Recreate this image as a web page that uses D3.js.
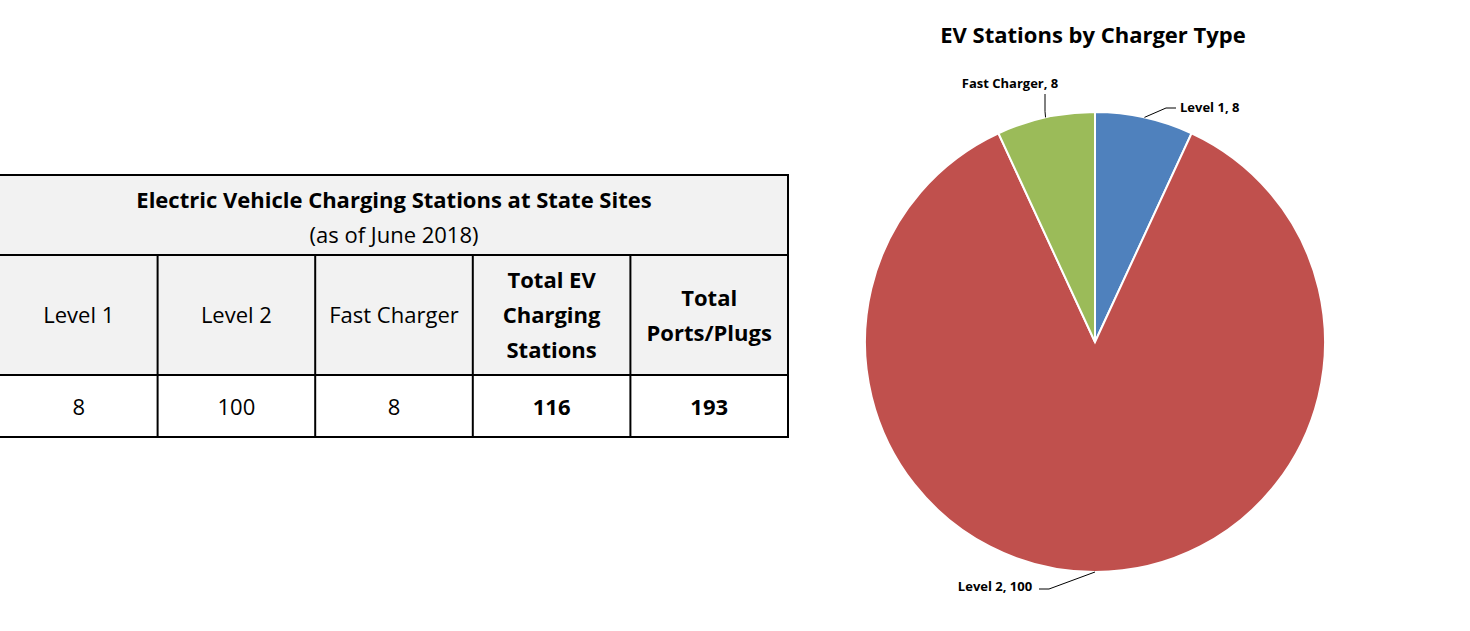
<!DOCTYPE html>
<html><head><meta charset="utf-8">
<script src="https://cdn.jsdelivr.net/npm/d3@7"></script>
<style>body{margin:0;background:#fff;font-family:"Open Sans",sans-serif}</style>
</head><body><svg id="c" width="1470" height="631"></svg>
<script>
var chargerTypes = ["Level 1", "Level 2", "Fast Charger"];
var stationCounts = [8, 100, 8];
var sliceColors = ["#4F81BD", "#C0504D", "#9BBB59"];
var tableHeaders = [["Level 1"], ["Level 2"], ["Fast Charger"], ["Total EV", "Charging", "Stations"], ["Total", "Ports/Plugs"]];
var tableValues = ["8", "100", "8", "116", "193"];
var boldCols = [false, false, false, true, true];

var svg = d3.select("#c");
var font = "'Open Sans', sans-serif";

// table
var colX = d3.scaleLinear().domain([0, 5]).range([0, 788]);
var t = svg.append("g");
t.append("rect").attr("x", 0).attr("y", 175).attr("width", 788).attr("height", 80).attr("fill", "#F2F2F2");
t.append("rect").attr("x", 0).attr("y", 255).attr("width", 788).attr("height", 120).attr("fill", "#F2F2F2");
t.append("text").attr("x", 394).attr("y", 208).attr("text-anchor", "middle").attr("font-size", 22).attr("font-weight", "bold").attr("font-family", font).text("Electric Vehicle Charging Stations at State Sites");
t.append("text").attr("x", 394).attr("y", 243).attr("text-anchor", "middle").attr("font-size", 22).attr("font-family", font).text("(as of June 2018)");
tableHeaders.forEach(function(h, i) {
  var cx = (colX(i) + colX(i + 1)) / 2;
  var tx = t.append("text").attr("text-anchor", "middle").attr("font-size", 22).attr("font-family", font)
    .attr("font-weight", boldCols[i] ? "bold" : "normal");
  var y0 = 315 - (h.length - 1) * 17.5 + 8;
  h.forEach(function(line, k) { tx.append("tspan").attr("x", cx).attr("y", y0 + k * 35).text(line); });
  t.append("text").attr("x", cx).attr("y", 415).attr("text-anchor", "middle").attr("font-size", 22).attr("font-family", font)
    .attr("font-weight", boldCols[i] ? "bold" : "normal").text(tableValues[i]);
});
[175, 255, 375, 437].forEach(function(y) {
  t.append("line").attr("x1", 0).attr("x2", 789).attr("y1", y).attr("y2", y).attr("stroke", "#000").attr("stroke-width", 2);
});
t.append("line").attr("x1", 788).attr("x2", 788).attr("y1", 175).attr("y2", 437).attr("stroke", "#000").attr("stroke-width", 2);
for (var i = 1; i < 5; i++) {
  t.append("line").attr("x1", colX(i)).attr("x2", colX(i)).attr("y1", 255).attr("y2", 437).attr("stroke", "#000").attr("stroke-width", 2);
}

// pie
var cx = 1095, cy = 342, r = 230;
svg.append("text").attr("x", 1093).attr("y", 43).attr("text-anchor", "middle").attr("font-size", 22).attr("font-weight", "bold").attr("font-family", font).text("EV Stations by Charger Type");
var pie = d3.pie().sort(null).value(function(d) { return d; });
var arcs = pie(stationCounts);
var arc = d3.arc().innerRadius(0).outerRadius(r);
var g = svg.append("g").attr("transform", "translate(" + cx + "," + cy + ")");
g.selectAll("path").data(arcs).enter().append("path").attr("d", arc)
  .attr("fill", function(d, i) { return sliceColors[i]; }).attr("stroke", "#fff").attr("stroke-width", 2);

// labels with leader lines (offsets relative to slice edge point)
var labelPos = [[1180, 112, "start"], [1010, 88, "middle"], [995, 591, "middle"]];
var order = [0, 2, 1];
order.forEach(function(idx, j) {
  var d = arcs[idx];
  var a = (d.startAngle + d.endAngle) / 2;
  var px = cx + r * Math.sin(a), py = cy - r * Math.cos(a);
  var lp = labelPos[j];
  var lx, ly;
  if (idx === 0) { lx = lp[0] - 4; ly = lp[1] - 4; }
  else if (idx === 2) { lx = 1045; ly = lp[1] + 6; }
  else { lx = lp[0] + 44; ly = lp[1] - 2; }
  var pts = idx === 2 ? [[px, py], [lx, py - 6], [lx, ly]] : [[px, py], [idx === 0 ? lx - 10 : lx + 10, ly], [lx, ly]];
  svg.append("path").attr("d", d3.line()(pts)).attr("fill", "none").attr("stroke", "#000").attr("stroke-width", 1);
  svg.append("text").attr("x", lp[0]).attr("y", lp[1]).attr("text-anchor", lp[2]).attr("font-size", 13).attr("font-weight", "bold").attr("font-family", font)
    .text(chargerTypes[idx] + ", " + stationCounts[idx]);
});
</script></body></html>
